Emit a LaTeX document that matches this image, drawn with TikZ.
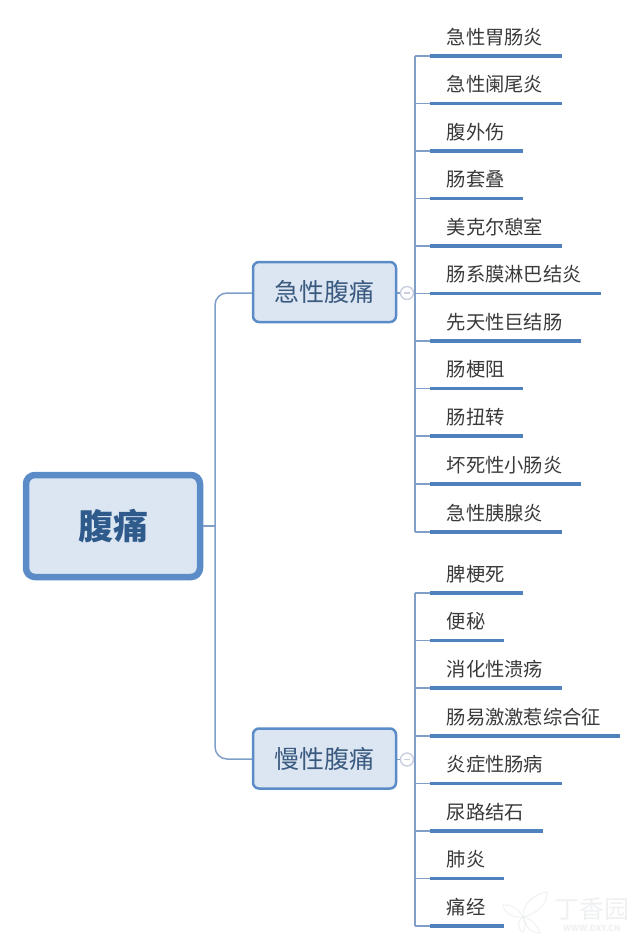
\documentclass[tikz,border=0pt]{standalone}
\usepackage{fontspec}
\setmainfont{Noto Sans CJK SC}
\definecolor{boxfill}{HTML}{DCE6F2}
\definecolor{boxline}{HTML}{5B8CC8}
\definecolor{stemline}{HTML}{7F9FC8}
\definecolor{barline}{HTML}{4F81BD}
\definecolor{rootink}{HTML}{2F5B8C}
\definecolor{subink}{HTML}{3A5A80}
\definecolor{leafink}{HTML}{3A3A3A}
\definecolor{foldline}{HTML}{C9CFE0}
\definecolor{markink}{HTML}{EEF0F2}
\tikzset{
  rootbox/.style={rectangle, rounded corners=9pt, draw=boxline, fill=boxfill, line width=6.5pt, minimum width=174pt, minimum height=102pt, text=rootink, font=\fontsize{35}{35}\selectfont\bfseries},
  subbox/.style={rectangle, rounded corners=6pt, draw=boxline, fill=boxfill, line width=2.5pt, minimum width=143pt, minimum height=60pt, text=subink, font=\fontsize{25}{26}\selectfont},
  leaf/.style={anchor=south west, inner xsep=0pt, inner ysep=10pt, text=leafink, align=left, font=\fontsize{19.3}{22}\selectfont, execute at begin node=\hspace*{16.5pt}},
  stem/.style={draw=stemline, line width=1.5pt},
  bar/.style={draw=barline, line width=3.6pt},
  fold/.style={circle, draw=foldline, fill=white, line width=1.4pt, minimum size=13pt, inner sep=0pt},
  petal/.style={draw=markink, line width=1pt}
}
\begin{document}
\begin{tikzpicture}[x=1pt, y=-1pt]
        \useasboundingbox (0,0) rectangle (640,948);

        % Define nodes
        \node[rootbox] (root) at (113,526) {腹痛};
        \node[subbox] (acute) at (324.5,292) {\raisebox{-1pt}{急性腹痛}};
        \node[subbox] (chronic) at (324.5,758.5) {\raisebox{-1pt}{慢性腹痛}};
        \node[fold] (foldA) at (407,293) {};
        \node[fold] (foldB) at (407,759.5) {};

        \coordinate (hub) at (215,526);
        \coordinate (trunkA) at (415,293);
        \coordinate (trunkB) at (415,759);

        \node[leaf, text width=132pt] (a1) at (430,56) {急性胃肠炎};
        \node[leaf, text width=132pt] (a2) at (430,103.5) {急性阑尾炎};
        \node[leaf, text width=93pt] (a3) at (430,151) {腹外伤};
        \node[leaf, text width=93pt] (a4) at (430,198.5) {肠套叠};
        \node[leaf, text width=132pt] (a5) at (430,246) {美克尔憩室};
        \node[leaf, text width=171pt] (a6) at (430,293.5) {肠系膜淋巴结炎};
        \node[leaf, text width=151pt] (a7) at (430,341) {先天性巨结肠};
        \node[leaf, text width=93pt] (a8) at (430,388.5) {肠梗阻};
        \node[leaf, text width=93pt] (a9) at (430,436) {肠扭转};
        \node[leaf, text width=151pt] (a10) at (430,484) {坏死性小肠炎};
        \node[leaf, text width=132pt] (a11) at (430,532) {急性胰腺炎};

        \node[leaf, text width=93pt] (b1) at (430,593) {脾梗死};
        \node[leaf, text width=74pt] (b2) at (430,640.5) {便秘};
        \node[leaf, text width=132pt] (b3) at (430,688) {消化性溃疡};
        \node[leaf, text width=190pt] (b4) at (430,736) {肠易激激惹综合征};
        \node[leaf, text width=132pt] (b5) at (430,783.5) {炎症性肠病};
        \node[leaf, text width=113pt] (b6) at (430,831) {尿路结石};
        \node[leaf, text width=74pt] (b7) at (430,878.5) {肺炎};
        \node[leaf, text width=74pt] (b8) at (430,926) {痛经};

        % Draw edges
        \draw[stem] (root) -- (hub);
        \draw[stem, rounded corners=12pt] (acute.west |- trunkA) -| (hub);
        \draw[stem, rounded corners=12pt] (chronic.west |- trunkB) -| (hub);
        \draw[stem] (acute.east |- foldA) -- (foldA);
        \draw[stem] (chronic.east |- foldB) -- (foldB);
        \draw[stem] (foldA) -- (trunkA);
        \draw[stem] (foldB) -- (trunkB);
        \draw[stem] (a1.south west -| trunkA) -- (a11.south west -| trunkA);
        \draw[stem] (b1.south west -| trunkB) -- (b8.south west -| trunkB);

        % Leaves, first branch
        \draw[stem] (a1.south west -| trunkA) -- (a1.south west);
        \draw[stem] (a2.south west -| trunkA) -- (a2.south west);
        \draw[stem] (a3.south west -| trunkA) -- (a3.south west);
        \draw[stem] (a4.south west -| trunkA) -- (a4.south west);
        \draw[stem] (a5.south west -| trunkA) -- (a5.south west);
        \draw[stem] (a6.south west -| trunkA) -- (a6.south west);
        \draw[stem] (a7.south west -| trunkA) -- (a7.south west);
        \draw[stem] (a8.south west -| trunkA) -- (a8.south west);
        \draw[stem] (a9.south west -| trunkA) -- (a9.south west);
        \draw[stem] (a10.south west -| trunkA) -- (a10.south west);
        \draw[stem] (a11.south west -| trunkA) -- (a11.south west);
        \draw[bar] (a1.south west) -- (a1.south east);
        \draw[bar] (a2.south west) -- (a2.south east);
        \draw[bar] (a3.south west) -- (a3.south east);
        \draw[bar] (a4.south west) -- (a4.south east);
        \draw[bar] (a5.south west) -- (a5.south east);
        \draw[bar] (a6.south west) -- (a6.south east);
        \draw[bar] (a7.south west) -- (a7.south east);
        \draw[bar] (a8.south west) -- (a8.south east);
        \draw[bar] (a9.south west) -- (a9.south east);
        \draw[bar] (a10.south west) -- (a10.south east);
        \draw[bar] (a11.south west) -- (a11.south east);

        % Leaves, second branch
        \draw[stem] (b1.south west -| trunkB) -- (b1.south west);
        \draw[stem] (b2.south west -| trunkB) -- (b2.south west);
        \draw[stem] (b3.south west -| trunkB) -- (b3.south west);
        \draw[stem] (b4.south west -| trunkB) -- (b4.south west);
        \draw[stem] (b5.south west -| trunkB) -- (b5.south west);
        \draw[stem] (b6.south west -| trunkB) -- (b6.south west);
        \draw[stem] (b7.south west -| trunkB) -- (b7.south west);
        \draw[stem] (b8.south west -| trunkB) -- (b8.south west);
        \draw[bar] (b1.south west) -- (b1.south east);
        \draw[bar] (b2.south west) -- (b2.south east);
        \draw[bar] (b3.south west) -- (b3.south east);
        \draw[bar] (b4.south west) -- (b4.south east);
        \draw[bar] (b5.south west) -- (b5.south east);
        \draw[bar] (b6.south west) -- (b6.south east);
        \draw[bar] (b7.south west) -- (b7.south east);
        \draw[bar] (b8.south west) -- (b8.south east);

        % Minus signs in the fold marks
        \draw[foldline, line width=1.2pt] ([xshift=-3pt]foldA.center) -- ([xshift=3pt]foldA.center);
        \draw[foldline, line width=1.2pt] ([xshift=-3pt]foldB.center) -- ([xshift=3pt]foldB.center);

        % Watermark
        \node[text=markink, font=\fontsize{25}{25}\selectfont] (mark) at (592,909) {丁香园};
        \node[text=markink, font=\fontsize{8.5}{9}\selectfont\bfseries] (site) at (592,928) {WWW.DXY.CN};
        \draw[petal] (523,917) .. controls (522,904) and (534,894) .. (547,892) .. controls (548,904) and (536,914) .. (523,917);
        \draw[petal] (523,917) .. controls (518,908) and (510,904) .. (503,905) .. controls (504,913) and (513,918) .. (523,917);
        \draw[petal] (523,917) .. controls (517,921) and (517,928) .. (523,932) .. controls (526,928) and (526,921) .. (523,917);
        \draw[petal] (523,917) .. controls (530,918) and (537,924) .. (540,933) .. controls (531,933) and (525,926) .. (523,917);
    \end{tikzpicture}
\end{document}
